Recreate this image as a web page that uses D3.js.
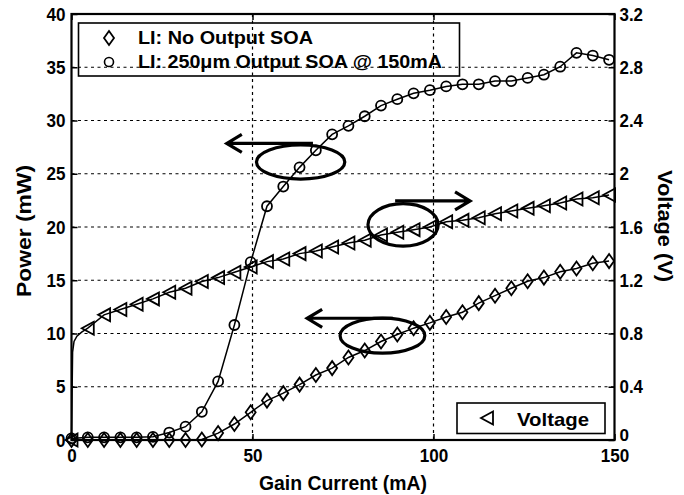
<!DOCTYPE html>
<html>
<head>
<meta charset="utf-8">
<script src="https://cdn.jsdelivr.net/npm/d3@7"></script>
<style>
  body { margin: 0; background: #fff; }
  svg { display: block; }
  text { font-family: "Liberation Sans", Arial, sans-serif; font-weight: bold; fill: #000; }
</style>
</head>
<body>
<svg id="chart" width="684" height="495"></svg>
<script>
// gain current (mA) where markers sit
const currentMA = [0, 4.5, 9, 13.5, 18, 22.5, 27, 31.5, 36, 40.5, 45, 49.5, 54, 58.5, 63, 67.5, 72,
  76.5, 81, 85.5, 90, 94.5, 99, 103.5, 108, 112.5, 117, 121.5, 126, 130.5, 135, 139.5, 144, 148.5];

// LI: No Output SOA (mW)
const powerNoSoa = [0, 0, 0, 0, 0, 0, 0, 0, 0.05, 0.65, 1.5, 2.6, 3.7, 4.4, 5.2, 6.1, 6.75,
  7.75, 8.4, 9.25, 9.9, 10.5, 11.0, 11.55, 12.0, 12.85, 13.55, 14.25, 14.9, 15.25, 15.8, 16.1, 16.6, 16.8];

// LI: 250um Output SOA @ 150mA (mW)
const powerSoa = [0.15, 0.25, 0.25, 0.25, 0.25, 0.3, 0.7, 1.25, 2.65, 5.5, 10.8, 16.7, 21.95, 23.8, 25.6, 27.2, 28.7,
  29.5, 30.4, 31.4, 32.0, 32.55, 32.85, 33.2, 33.4, 33.4, 33.7, 33.7, 34.0, 34.3, 35.05, 36.35, 36.1, 35.7];

// Voltage (V)
const voltage = [0, 0.84, 0.94, 0.98, 1.02, 1.06, 1.11, 1.14, 1.19, 1.22, 1.26, 1.30, 1.34, 1.36, 1.40, 1.42, 1.45,
  1.48, 1.50, 1.54, 1.56, 1.58, 1.60, 1.64, 1.65, 1.67, 1.70, 1.72, 1.74, 1.76, 1.78, 1.81, 1.82, 1.84];

// the voltage trace between markers right after turn-on
const onsetCurrent = [0.3, 0.7, 1.5, 2.8];
const onsetVoltage = [0.66, 0.74, 0.78, 0.81];

const xTicks = [0, 50, 100, 150];
const powerTicks = [0, 5, 10, 15, 20, 25, 30, 35, 40];
const voltTicks = [0, 0.4, 0.8, 1.2, 1.6, 2, 2.4, 2.8, 3.2];

const legendLabels = ['LI: No Output SOA', 'LI: 250\u03bcm Output SOA @ 150mA'];

// ellipse callouts, in data units [cx mA, cy mW, half width mA, half height mW]
const callouts = [[63.3, 26.1, 12.2, 1.6], [91.6, 20.2, 9.7, 2.0], [85.9, 9.8, 11.7, 1.65]];
// arrows [from mA, to mA, at mW]
const arrows = [[66.7, 42.9, 27.85], [89.4, 110.1, 22.45], [88.8, 65.1, 11.43]];

const L = 71.5, R = 614.5, T = 14, B = 440;
const x = d3.scaleLinear().domain([0, 150]).range([L, R]);
const y = d3.scaleLinear().domain([0, 40]).range([B, T]);
const yv = d3.scaleLinear().domain([0, 3.2]).range([B, T]);

const svg = d3.select('#chart');

// dotted grid
const grid = svg.append('g').attr('stroke', '#000').attr('stroke-width', 1.2).attr('stroke-dasharray', '3,3.5');
grid.selectAll('line.h').data(powerTicks.slice(1, -1)).enter().append('line')
  .attr('x1', L).attr('x2', R).attr('y1', d => y(d)).attr('y2', d => y(d));
grid.selectAll('line.v').data(xTicks.slice(1, -1)).enter().append('line')
  .attr('y1', T).attr('y2', B).attr('x1', d => x(d)).attr('x2', d => x(d));

function squeeze(sel, per) {
  sel.attr('textLength', function () {
    const s = this.textContent;
    let w = 0;
    for (const c of s) w += c === '.' ? 4.5 : per;
    return w;
  }).attr('lengthAdjust', 'spacingAndGlyphs');
}

// axes, ticks pointing inwards
const axB = svg.append('g').attr('transform', `translate(0,${B})`)
  .call(d3.axisBottom(x).tickValues(xTicks).tickSizeInner(-6).tickSizeOuter(0).tickPadding(9));
const axT = svg.append('g').attr('transform', `translate(0,${T})`)
  .call(d3.axisTop(x).tickValues(xTicks).tickSizeInner(-6).tickSizeOuter(0).tickFormat(''));
const axL = svg.append('g').attr('transform', `translate(${L},0)`)
  .call(d3.axisLeft(y).tickValues(powerTicks).tickSizeInner(-6).tickSizeOuter(0).tickPadding(6));
const axR = svg.append('g').attr('transform', `translate(${R},0)`)
  .call(d3.axisRight(yv).tickValues(voltTicks).tickSizeInner(-6).tickSizeOuter(0).tickPadding(5)
    .tickFormat(d => String(d)));

[axB, axT, axL, axR].forEach(a => {
  a.select('.domain').remove();
  a.selectAll('line').attr('stroke', '#000').attr('stroke-width', 1.5);
  a.selectAll('text').attr('font-size', 19).attr('font-family', null).call(squeeze, 9.5);
});
axB.selectAll('text').attr('dy', '0.71em');
axR.selectAll('.tick text').filter(d => d === 0).attr('dy', '0.05em').attr('font-size', 17);

// frame
svg.append('rect').attr('x', L).attr('y', T).attr('width', R - L).attr('height', B - T)
  .attr('fill', 'none').attr('stroke', '#000').attr('stroke-width', 2.2);

// lines
const lineP = d3.line().x(d => x(d[0])).y(d => y(d[1]));
const lineV = d3.line().x(d => x(d[0])).y(d => yv(d[1]));

const noSoaPts = currentMA.map((c, i) => [c, powerNoSoa[i]]);
const soaPts = currentMA.map((c, i) => [c, powerSoa[i]]);
const voltPts = currentMA.map((c, i) => [c, voltage[i]]);
const voltTrace = [voltPts[0]].concat(onsetCurrent.map((c, i) => [c, onsetVoltage[i]]), voltPts.slice(1));

const curves = svg.append('g').attr('fill', 'none').attr('stroke', '#000').attr('stroke-width', 1.5);
curves.append('path').attr('d', lineP(noSoaPts));
curves.append('path').attr('d', lineP(soaPts));
curves.append('path').attr('d', lineV(voltTrace));

// marker shapes
const diamond = 'M0,-7L5,0L0,7L-5,0Z';
const tri = 'M-6,0L6,-6.5L6,6.5Z';

const mk = svg.append('g').attr('fill', 'none').attr('stroke', '#000').attr('stroke-width', 1.8);
mk.selectAll('path.dia').data(noSoaPts).enter().append('path')
  .attr('d', diamond).attr('transform', d => `translate(${x(d[0])},${y(d[1])})`);
mk.selectAll('circle').data(soaPts).enter().append('circle')
  .attr('r', 5).attr('cx', d => x(d[0])).attr('cy', d => y(d[1]));
mk.selectAll('path.tri').data(voltPts).enter().append('path')
  .attr('d', tri).attr('transform', d => `translate(${x(d[0])},${yv(d[1])})`);

// callout ellipses + arrows
const ann = svg.append('g').attr('fill', 'none').attr('stroke', '#000').attr('stroke-width', 3.2);
ann.selectAll('ellipse').data(callouts).enter().append('ellipse')
  .attr('cx', d => x(d[0])).attr('cy', d => y(d[1]))
  .attr('rx', d => x(d[0] + d[2]) - x(d[0])).attr('ry', d => y(d[1] - d[3]) - y(d[1]));
ann.selectAll('path').data(arrows).enter().append('path')
  .attr('d', d => {
    const x0 = x(d[0]), x1 = x(d[1]), yy = y(d[2]);
    const s = x1 > x0 ? -1 : 1;
    return `M${x0},${yy}L${x1},${yy}M${x1 + s * 15},${yy - 9}L${x1},${yy}L${x1 + s * 15},${yy + 9}`;
  });

// legend (top left)
const lg = svg.append('g');
lg.append('rect').attr('x', 78.5).attr('y', 23).attr('width', 381).attr('height', 53)
  .attr('fill', 'none').attr('stroke', '#000').attr('stroke-width', 1.6);
lg.append('path').attr('d', diamond).attr('transform', 'translate(109,38)')
  .attr('fill', 'none').attr('stroke', '#000').attr('stroke-width', 1.8);
lg.append('circle').attr('cx', 109).attr('cy', 62).attr('r', 4.5)
  .attr('fill', 'none').attr('stroke', '#000').attr('stroke-width', 1.6);
lg.append('text').attr('x', 138).attr('y', 44).attr('font-size', 18.5)
  .attr('textLength', 175).attr('lengthAdjust', 'spacingAndGlyphs').text(legendLabels[0]);
lg.append('text').attr('x', 138).attr('y', 68).attr('font-size', 18.5)
  .attr('textLength', 304).attr('lengthAdjust', 'spacingAndGlyphs').text(legendLabels[1]);

// legend (bottom right)
const lg2 = svg.append('g');
lg2.append('rect').attr('x', 457).attr('y', 403).attr('width', 148).attr('height', 30.5)
  .attr('fill', 'none').attr('stroke', '#000').attr('stroke-width', 1.6);
lg2.append('path').attr('d', tri).attr('transform', 'translate(487,418)')
  .attr('fill', 'none').attr('stroke', '#000').attr('stroke-width', 1.8);
lg2.append('text').attr('x', 517).attr('y', 425.5).attr('font-size', 19)
  .attr('textLength', 72).attr('lengthAdjust', 'spacingAndGlyphs').text('Voltage');

// axis titles
svg.append('text').attr('x', (L + R) / 2).attr('y', 490).attr('text-anchor', 'middle')
  .attr('font-size', 20).attr('textLength', 168).attr('lengthAdjust', 'spacingAndGlyphs')
  .text('Gain Current (mA)');
svg.append('text').attr('transform', 'translate(31,231) rotate(-90)').attr('text-anchor', 'middle')
  .attr('font-size', 21).attr('textLength', 132).attr('lengthAdjust', 'spacingAndGlyphs')
  .text('Power (mW)');
svg.append('text').attr('transform', 'translate(658,226) rotate(90)').attr('text-anchor', 'middle')
  .attr('font-size', 21).attr('textLength', 112).attr('lengthAdjust', 'spacingAndGlyphs')
  .text('Voltage (V)');
</script>
</body>
</html>
